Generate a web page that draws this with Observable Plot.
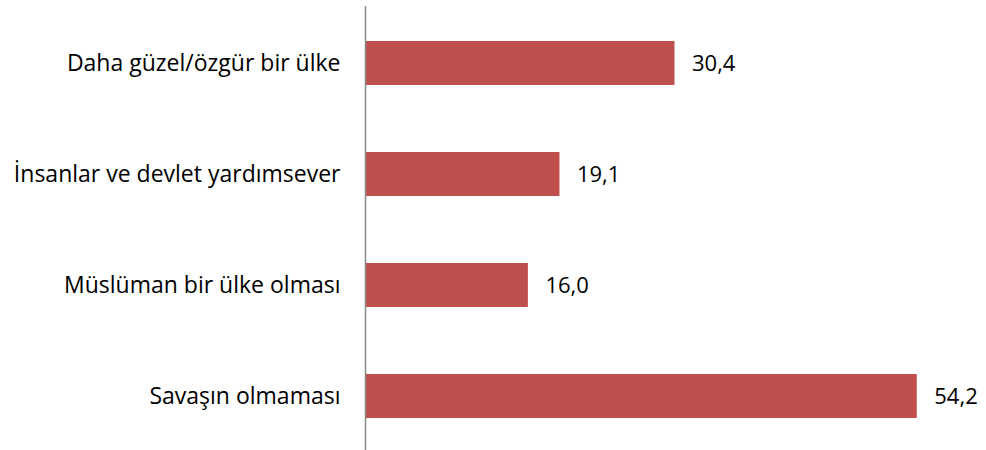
<!DOCTYPE html>
<html>
<head>
<meta charset="utf-8">
<script src="https://cdn.jsdelivr.net/npm/d3@7"></script>
<script src="https://cdn.jsdelivr.net/npm/@observablehq/plot@0.6"></script>
<style>
  html, body { margin: 0; padding: 0; background: #fff; }
  #chart svg { display: block; }
</style>
</head>
<body>
<div id="chart"></div>
<script>
const categories = [
  "Daha güzel/özgür bir ülke",
  "İnsanlar ve devlet yardımsever",
  "Müslüman bir ülke olması",
  "Savaşın olmaması"
];
const values = [30.4, 19.1, 16.0, 54.2];

const data = categories.map((c, i) => ({ category: c, value: values[i] }));
const fmt = v => v.toFixed(1).replace(".", ",");

const chart = Plot.plot({
  width: 986,
  height: 450,
  marginLeft: 365,
  marginRight: 0,
  marginTop: 6,
  marginBottom: -3,
  style: { fontFamily: "'Open Sans', sans-serif", fontSize: "22px", color: "#000", background: "#fff" },
  x: { domain: [0, 61.0], axis: null },
  y: { domain: categories, paddingInner: 0.606, paddingOuter: 0.303, label: null, tickSize: 0, tickPadding: 25 },
  marks: [
    Plot.barX(data, { x: "value", y: "category", fill: "#C0504D" }),
    Plot.ruleX([0], { stroke: "#888", strokeWidth: 1.5 }),
    Plot.text(data, { x: "value", y: "category", text: d => fmt(d.value), textAnchor: "start", dx: 17, fill: "#000", fontSize: 22 }),
    Plot.axisY({ tickSize: 0, tickPadding: 25, label: null, fontSize: 23, fill: "#000" })
  ]
});
document.getElementById("chart").appendChild(chart);
</script>
</body>
</html>
